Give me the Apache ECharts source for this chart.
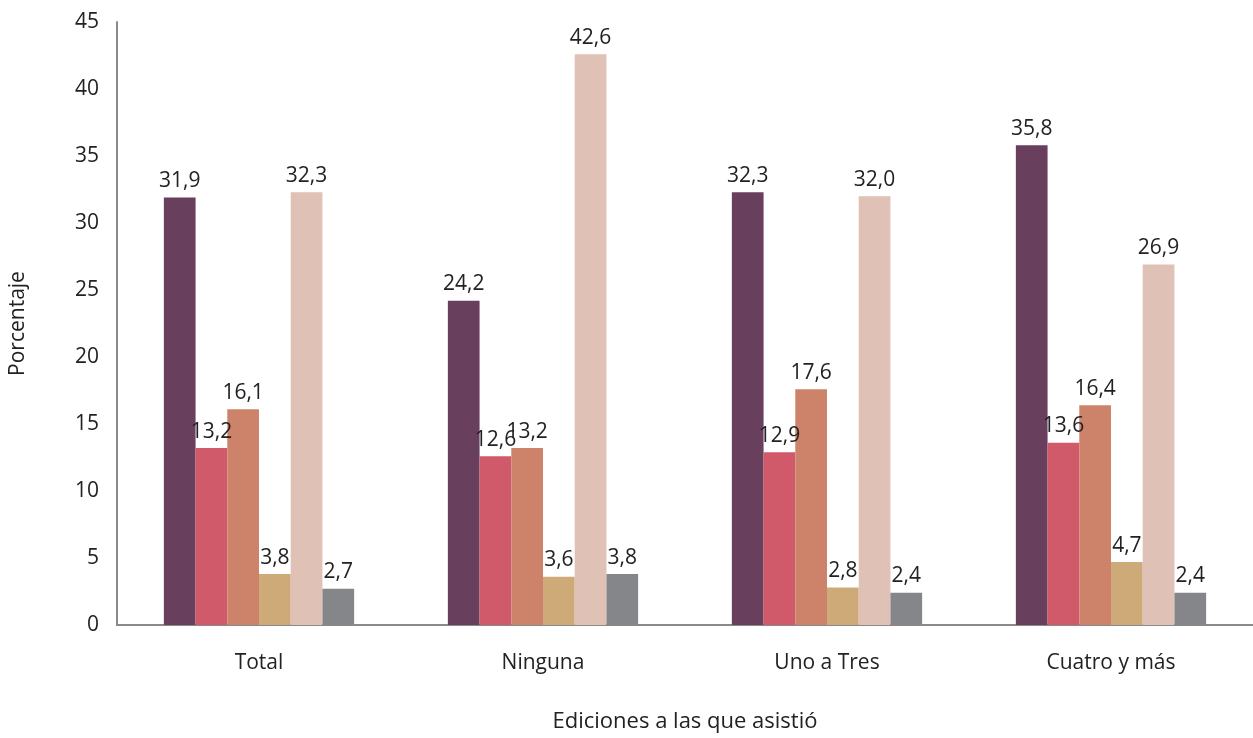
<!DOCTYPE html>
<html><head><meta charset="utf-8">
<script src="https://cdn.jsdelivr.net/npm/echarts@6/dist/echarts.min.js"></script>
<style>html,body{margin:0;padding:0;background:#fff}#c{width:1253px;height:738px}</style>
</head><body><div id="c"></div>
<script>
const categories = ['Total', 'Ninguna', 'Uno a Tres', 'Cuatro y más'];
const serie1 = [31.9, 24.2, 32.3, 35.8];
const serie2 = [13.2, 12.6, 12.9, 13.6];
const serie3 = [16.1, 13.2, 17.6, 16.4];
const serie4 = [3.8, 3.6, 2.8, 4.7];
const serie5 = [32.3, 42.6, 32.0, 26.9];
const serie6 = [2.7, 3.8, 2.4, 2.4];
const yTicks = [0, 5, 10, 15, 20, 25, 30, 35, 40, 45];

const colors = ['#693F5E', '#D05A6A', '#CC836A', '#CFAA79', '#E0C1B5', '#858689'];
const FONT = '"Open Sans", sans-serif';
const allSeries = [serie1, serie2, serie3, serie4, serie5, serie6];

const chart = echarts.init(document.getElementById('c'));
chart.setOption({
  animation: false,
  grid: { left: 117, right: 0, top: 22, bottom: 108, containLabel: false },
  xAxis: {
    type: 'category', data: categories,
    name: 'Ediciones a las que asistió', nameLocation: 'middle', nameGap: 86,
    nameTextStyle: { fontFamily: FONT, fontSize: 22, color: '#222' },
    axisLine: { lineStyle: { color: '#8a8a8a', width: 2 } },
    axisTick: { show: false },
    axisLabel: { fontFamily: FONT, fontSize: 21, color: '#222', margin: 28 }
  },
  yAxis: {
    type: 'value', min: 0, max: 45, interval: 5,
    name: 'Porcentaje', nameLocation: 'middle', nameGap: 88,
    nameTextStyle: { fontFamily: FONT, fontSize: 21, color: '#222' },
    axisLine: { show: true, lineStyle: { color: '#8a8a8a', width: 2 } },
    axisTick: { show: false },
    splitLine: { show: false },
    axisLabel: { fontFamily: FONT, fontSize: 21, color: '#222', margin: 18,
      formatter: v => yTicks.includes(v) ? String(v) : '' }
  },
  series: allSeries.map((d, i) => ({
    type: 'bar', data: d, barGap: '0%', barCategoryGap: '33%',
    itemStyle: { color: colors[i] },
    label: { show: true, position: 'top', distance: 6, fontFamily: FONT, fontSize: 21, color: '#222',
      formatter: p => p.value.toFixed(1).replace('.', ',') }
  }))
});
</script></body></html>
